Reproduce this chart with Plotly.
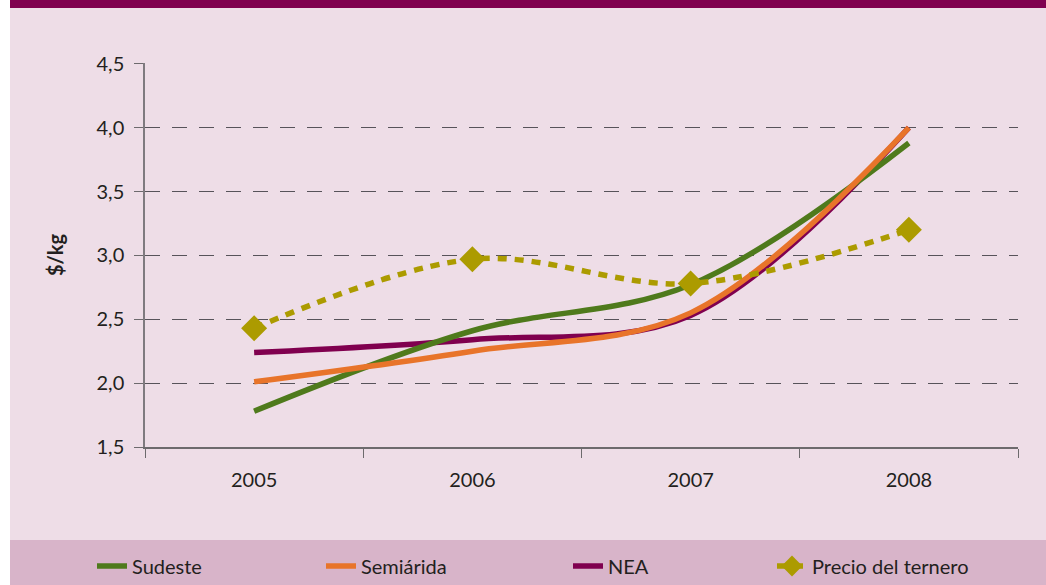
import plotly.graph_objects as go

# Data
years = ["2005", "2006", "2007", "2008"]
sudeste = [1.78, 2.41, 2.77, 3.88]
semiarida = [2.01, 2.25, 2.55, 4.00]
nea = [2.24, 2.34, 2.53, 4.00]
precio = [2.43, 2.97, 2.78, 3.20]
y_ticks = [1.5, 2.0, 2.5, 3.0, 3.5, 4.0, 4.5]

FONT = "Lato, sans-serif"
TEXT = "#231F20"

# plot area in pixels: left 145, right 1018, top 63, bottom 447
L, R, T, B = 145, 1018, 63, 447
W, H = R - L, B - T


def px(x):
    return (x - L) / W


def py(y):
    return (B - y) / H


fig = go.Figure()

series = [
    ("NEA", nea, "#80004F", "legend4"),
    ("Sudeste", sudeste, "#4F7A1C", "legend2"),
    ("Semiárida", semiarida, "#E8742A", "legend3"),
]
for name, vals, color, lg in series:
    fig.add_trace(go.Scatter(
        x=years, y=vals, name=name, mode="lines",
        line=dict(color=color, width=5.5, shape="spline", smoothing=1.0),
        legend=lg,
    ))

fig.add_trace(go.Scatter(
    x=years, y=precio, name="Precio del ternero", mode="lines+markers",
    line=dict(color="#AC9B00", width=5.5, shape="spline", smoothing=1.0, dash="9px,8px"),
    marker=dict(symbol="diamond", size=20, color="#AC9B00"),
    legend="legend5",
))

legend_common = dict(
    orientation="h", yanchor="middle", y=py(566), xanchor="left",
    bgcolor="rgba(0,0,0,0)", font=dict(family=FONT, size=20, color=TEXT),
)

fig.update_layout(
    width=1046, height=585,
    margin=dict(l=L, r=1046 - R, t=T, b=585 - B, autoexpand=False),
    paper_bgcolor="#EEDDE7", plot_bgcolor="rgba(0,0,0,0)",
    separators=",.",
    font=dict(family=FONT, size=20, color=TEXT),
    legend2=dict(x=px(92), **legend_common),
    legend3=dict(x=px(321), **legend_common),
    legend4=dict(x=px(568), **legend_common),
    legend5=dict(x=px(772), **legend_common),
    shapes=[
        # white strip on the left
        dict(type="rect", xref="paper", yref="paper", x0=px(0), x1=px(10),
             y0=py(585), y1=py(0), fillcolor="white", line_width=0, layer="below"),
        # top band
        dict(type="rect", xref="paper", yref="paper", x0=px(10), x1=px(1046),
             y0=py(8), y1=py(0), fillcolor="#80004F", line_width=0, layer="below"),
        # legend band
        dict(type="rect", xref="paper", yref="paper", x0=px(10), x1=px(1046),
             y0=py(585), y1=py(540), fillcolor="#D8B4C9", line_width=0, layer="below"),
    ],
)

fig.update_xaxes(
    type="category", range=[-0.5, 3.5],
    tickmode="array", tickvals=years, ticktext=years,
    tickson="boundaries", ticks="outside", ticklen=9, tickcolor="#6D6A6D",
    ticklabelstandoff=14,
    showline=True, linecolor="#6D6A6D", linewidth=1.5,
    showgrid=False, zeroline=False,
    tickfont=dict(family=FONT, size=20, color=TEXT),
)
fig.update_yaxes(
    range=[1.5, 4.506], tickvals=y_ticks, tickformat=".1f",
    ticks="outside", ticklen=9, tickcolor="#6D6A6D",
    ticklabelstandoff=6,
    showline=True, linecolor="#7F7A7F", linewidth=1.5,
    showgrid=True, gridcolor="#57535A", gridwidth=1.2, griddash="15px,12px",
    zeroline=False,
    tickfont=dict(family=FONT, size=20, color=TEXT),
    title=dict(text="<b>$/kg</b>", standoff=28, font=dict(family=FONT, size=20, color=TEXT)),
)

fig.write_html("out.html", config={"displayModeBar": False},
               post_script="document.body.style.margin='0';")
